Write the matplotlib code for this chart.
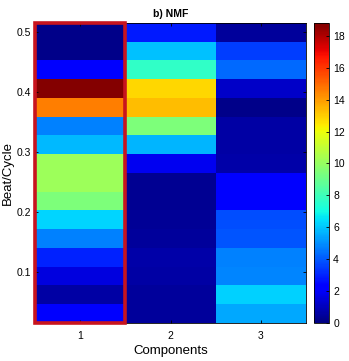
import numpy as np
import matplotlib
matplotlib.use('Agg')
from matplotlib import pyplot as plt
from matplotlib.patches import Rectangle

plt.rcParams['font.family'] = ['Liberation Sans', 'DejaVu Sans']

# beat/cycle positions of the 16 rows (bottom to top)
beat = np.arange(1, 17) / 32.0
components = [1, 2, 3]

# NMF weights per component, bottom row first
comp1 = [2.2, 0.6, 1.6, 3.0, 4.7, 6.3, 9.4, 10.2, 10.2, 5.8, 4.7, 14.6, 18.7, 2.3, 0.2, 0.2]
comp2 = [0.5, 0.5, 0.6, 0.7, 0.5, 0.4, 0.3, 0.3, 1.9, 5.7, 9.4, 13.3, 12.8, 7.7, 5.9, 2.8]
comp3 = [5.5, 6.2, 4.8, 4.7, 3.9, 3.8, 2.1, 2.1, 0.7, 0.6, 0.6, 0.2, 1.2, 4.3, 3.5, 0.5]

yticks = [0.1, 0.2, 0.3, 0.4, 0.5]
cticks = list(range(0, 19, 2))

vals = np.column_stack([comp1, comp2, comp3])

# cell edges from the centres
step = beat[1] - beat[0]
yedges = np.append(beat - step / 2, beat[-1] + step / 2)
xedges = np.arange(0.5, len(components) + 1)

fig = plt.figure(figsize=(3.49, 3.61), dpi=100)
ax = fig.add_axes([0.1003, 0.1053, 0.7765, 0.831])
cax = fig.add_axes([0.8997, 0.1053, 0.043, 0.831])

mesh = ax.pcolormesh(xedges, yedges, vals, cmap='jet', vmin=0, vmax=18.8)

# red box around the first component
ax.add_patch(Rectangle((xedges[0], yedges[0]), 1, yedges[-1] - yedges[0],
                       fill=False, edgecolor='#c8141e', linewidth=2.6, clip_on=False, zorder=5))

ax.set_xlim(xedges[0], xedges[-1])
ax.set_ylim(yedges[0], yedges[-1])
ax.set_xticks(components)
ax.set_yticks(yticks)
ax.set_yticklabels(['%.1f' % t for t in yticks])
ax.tick_params(direction='in', length=2.5, width=0.6, labelsize=7.5, top=True, right=True, pad=3)
ax.tick_params(axis='x', pad=6)
ax.set_xlabel('Components', fontsize=9.5, labelpad=3)
ax.set_ylabel('Beat/Cycle', fontsize=9.5, labelpad=2)
ax.set_title('b) NMF', fontsize=7.5, fontweight='bold', pad=4)
for s in ax.spines.values():
    s.set_linewidth(0.6)

cb = fig.colorbar(mesh, cax=cax, ticks=cticks)
cb.ax.tick_params(direction='in', length=2.5, width=0.6, labelsize=7.5, pad=3)
cb.outline.set_linewidth(0.6)

fig.savefig('out.png', dpi=100)
